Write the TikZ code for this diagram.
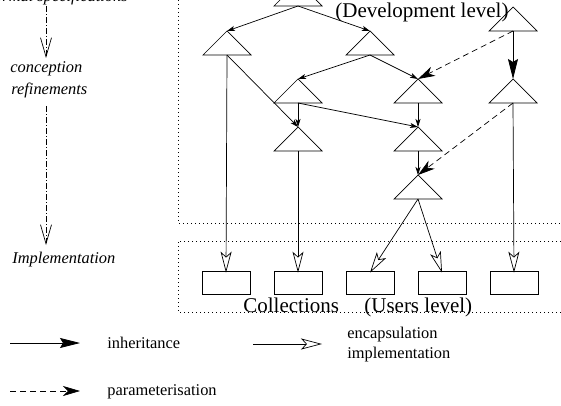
\documentclass[tikz,border=0pt]{standalone}
\usepackage{fontspec}
\setmainfont{Liberation Serif}
\usepackage{tikz}
\usetikzlibrary{arrows.meta}

\tikzset{
  inherit/.style={-{Stealth[length=8pt,width=5pt,inset=2pt]}},
  inheritbig/.style={-{Stealth[length=20pt,width=10pt,inset=3pt]}},
  param/.style={dash pattern=on 6pt off 4pt,-{Stealth[length=17pt,width=10pt,inset=5pt]}},
  encaps/.style={-{Stealth[open,length=21pt,width=11pt,inset=5pt]}},
  refine/.style={dash pattern=on 6pt off 2pt on 1pt off 2pt,-{Straight Barb[length=19pt,width=11pt]}},
  level/.style={dash pattern=on 1pt off 3pt},
  collbox/.style={draw,minimum width=48pt,minimum height=23pt,inner sep=0pt},
  bigtext/.style={anchor=base west,inner sep=0pt,font=\fontsize{21}{25}\selectfont},
  smalltext/.style={anchor=base west,inner sep=0pt,font=\fontsize{16.4}{20}\selectfont},
}

\begin{document}
\begin{tikzpicture}[x=1pt,y=-1pt,line width=0.7pt]
      \useasboundingbox (0,0) rectangle (561,406);
      \clip (0,0) rectangle (561,406);
      % development level
      \foreach \tname/\tx/\ty in {dev0/298/-18, dev1/227/31, dev2/370/31, dev3/513/7,
                                 dev4/298/79, dev5/418/79, dev6/513/79,
                                 dev7/298/127, dev8/418/127, dev9/418/175} {
        \coordinate (\tname-top) at (\tx,\ty);
        \coordinate (\tname-bot) at (\tx,\ty+24);
        \path[draw] (\tx,\ty) -- (\tx-24,\ty+24) -- (\tx+24,\ty+24) -- cycle;
      }
      \path[draw,level] (178,0) -- (178,223) -- (561,223);
      \node[bigtext] (devlevel) at (335,18) {(Development level)};
      % users level
      \foreach \xbox in {1, ..., 5} {
        \node[collbox] (col\xbox) at (154+72*\xbox,282.5) {};
      }
      \path[draw,level] (561,241) -- (178,241) -- (178,312) -- (561,312);
      \node[bigtext] (colltext) at (243,312) {Collections};
      \node[bigtext] (userlevel) at (364,312) {(Users level)};
      % inheritance
      \draw[inherit] (dev0-bot) -- (dev1-top);
      \draw[inherit] (dev0-bot) -- (dev2-top);
      \draw[inherit] (dev2-bot) -- (dev4-top);
      \draw[inherit] (dev2-bot) -- (dev5-top);
      \draw[inherit] (dev1-bot) -- (dev7-top);
      \draw[inherit] (dev4-bot) -- (dev7-top);
      \draw[inherit] (dev4-bot) -- (dev8-top);
      \draw[inherit] (dev5-bot) -- (dev8-top);
      \draw[inherit] (dev8-bot) -- (dev9-top);
      \draw[inheritbig] (dev3-bot) -- (dev6-top);
      % parameterisation
      \draw[param] (dev3-bot) -- (dev5-top);
      \draw[param] (dev6-bot) -- (dev9-top);
      % encapsulation
      \draw[encaps] (dev1-bot) -- ([yshift=-2pt]col1.north);
      \draw[encaps] (dev7-bot) -- ([yshift=-2pt]col2.north);
      \draw[encaps] (dev9-bot) -- ([yshift=-2pt]col3.north);
      \draw[encaps] (dev9-bot) -- ([yshift=-2pt]col4.north);
      \draw[encaps] (dev6-bot) -- ([yshift=-2pt]col5.north);
      % left column
      \node[smalltext,anchor=base east,font=\fontsize{16.4}{20}\itshape] (formal) at (128,2) {formal specifications};
      \node[smalltext,font=\fontsize{16.4}{20}\itshape] (concep) at (10,73) {conception};
      \node[smalltext,font=\fontsize{16.4}{20}\itshape] (refin) at (11,95) {refinements};
      \node[smalltext,font=\fontsize{16.4}{20}\itshape] (implem) at (12,263) {Implementation};
      \coordinate (spec-a) at (46,6);
      \coordinate (spec-b) at (46,58);
      \coordinate (ref-a) at (46,106);
      \coordinate (ref-b) at (46,245);
      \draw[refine] (spec-a) -- (spec-b);
      \draw[refine] (ref-a) -- (ref-b);
      % legend
      \coordinate (inh-a) at (10,343);
      \coordinate (inh-b) at (80,343);
      \coordinate (par-a) at (10,391);
      \coordinate (par-b) at (80,391);
      \coordinate (enc-a) at (253,344);
      \coordinate (enc-b) at (322,344);
      \draw[inheritbig] (inh-a) -- (inh-b);
      \draw[param] (par-a) -- (par-b);
      \draw[encaps] (enc-a) -- (enc-b);
      \node[smalltext] (inhtext) at (107,348) {inheritance};
      \node[smalltext] (partext) at (107,395) {parameterisation};
      \node[smalltext] (enctext) at (347,338) {encapsulation};
      \node[smalltext] (imptext) at (347,358) {implementation};
    \end{tikzpicture}
\end{document}
